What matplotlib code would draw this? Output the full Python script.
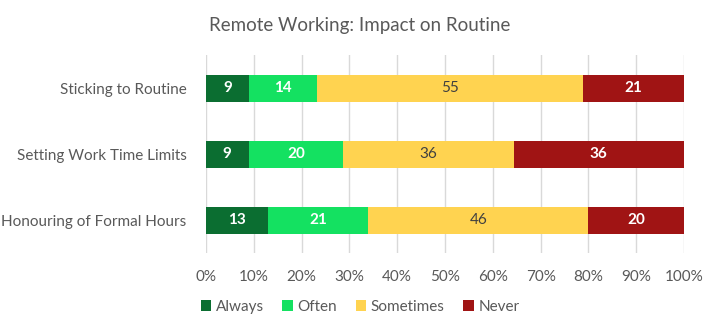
import numpy as np
import matplotlib.pyplot as plt

plt.rcParams['font.family'] = ['Lato', 'DejaVu Sans']

# data (counts per answer, shown as 100% stacked)
categories = ['Honouring of Formal Hours', 'Setting Work Time Limits', 'Sticking to Routine']
series = ['Always', 'Often', 'Sometimes', 'Never']
always = [13, 9, 9]
often = [21, 20, 14]
sometimes = [46, 36, 55]
never = [20, 36, 21]

colors = ['#0B6E31', '#14E161', '#FFD350', '#A01414']
label_colors = ['white', 'white', '#404040', 'white']
label_weights = ['bold', 'bold', 'normal', 'bold']

values = np.array([always, often, sometimes, never], dtype=float)
shares = values / values.sum(axis=0) * 100

fig = plt.figure(figsize=(7.2, 3.3), dpi=100)
ax = fig.add_axes([0.286, 0.233, 0.664, 0.60])

y = np.arange(len(categories))
left = np.zeros(len(categories))
for i, name in enumerate(series):
    bars = ax.barh(y, shares[i], left=left, height=0.41, color=colors[i],
                   label=name, zorder=3)
    for b, v in zip(bars, values[i]):
        ax.text(b.get_x() + b.get_width() / 2, b.get_y() + b.get_height() / 2,
                f'{v:.0f}', ha='center', va='center', fontsize=11,
                color=label_colors[i], fontweight=label_weights[i], zorder=4)
    left += shares[i]

ax.set_xlim(0, 100)
ax.set_ylim(-0.5, 2.5)
ax.set_xticks(np.arange(0, 101, 10))
ax.set_xticklabels([f'{t}%' for t in range(0, 101, 10)])
ax.set_yticks(y)
ax.set_yticklabels(categories)
ax.tick_params(axis='both', length=0, labelsize=11, labelcolor='#595959')
ax.tick_params(axis='x', pad=12)
ax.tick_params(axis='y', pad=14)
ax.grid(axis='x', color='#D9D9D9', linewidth=1, zorder=0)
for s in ax.spines.values():
    s.set_visible(False)

fig.suptitle('Remote Working: Impact on Routine', x=0.5, y=0.95,
             fontsize=13.5, color='#595959')

fig.legend(loc='center', bbox_to_anchor=(0.5, 0.07), ncol=4, frameon=False,
           fontsize=11, labelcolor='#595959', handlelength=0.7, handleheight=0.7,
           handletextpad=0.3, columnspacing=1.2)

fig.savefig('out.png', dpi=100)
